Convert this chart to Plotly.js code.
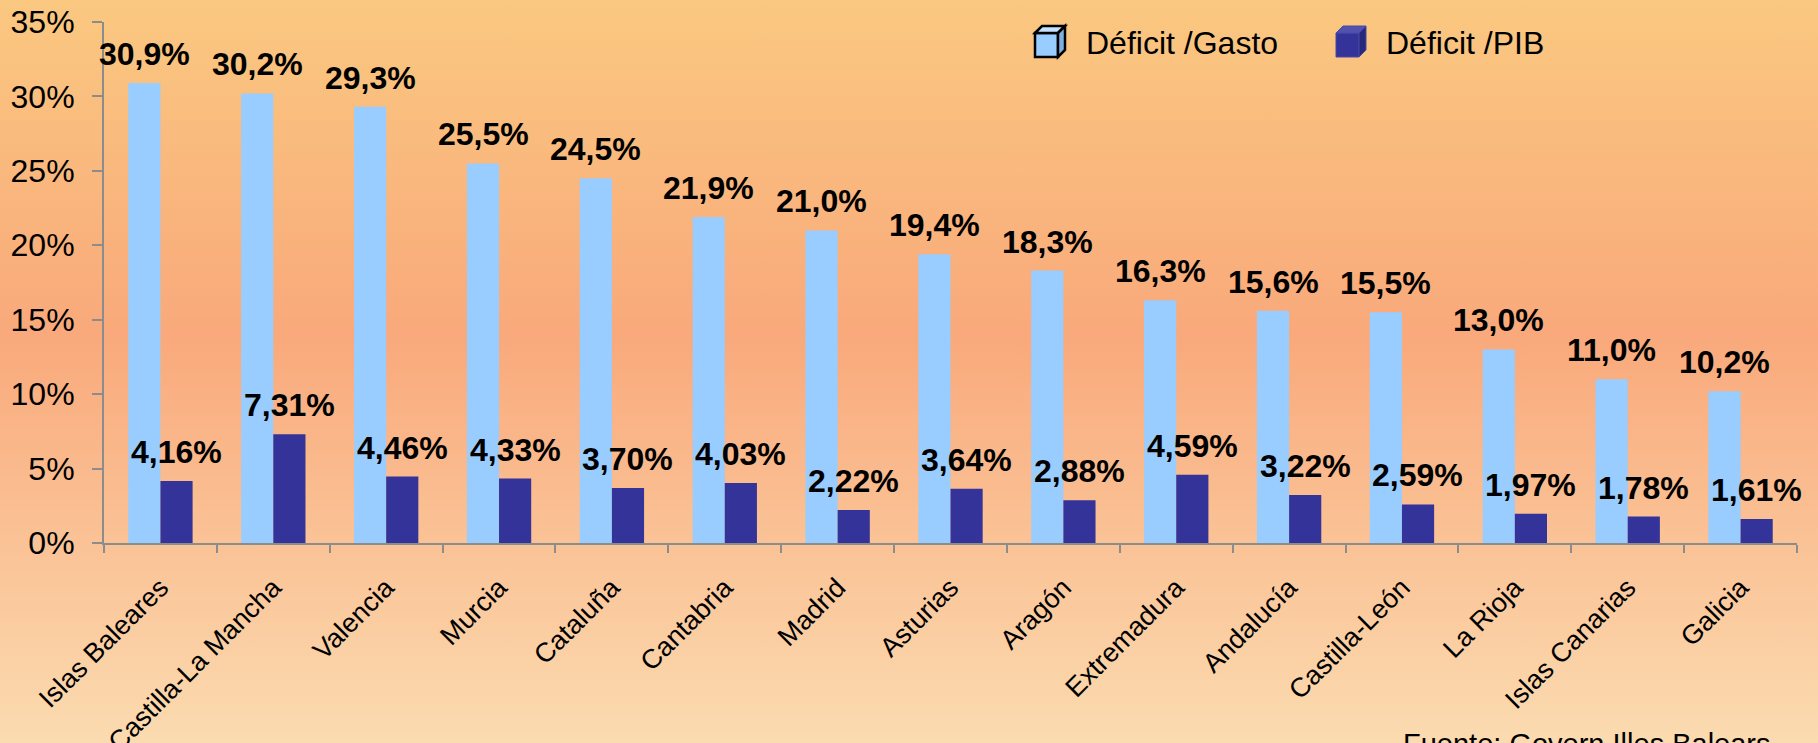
<!DOCTYPE html>
<html><head><meta charset="utf-8">
<script src="https://cdn.plot.ly/plotly-3.0.1.min.js"></script>
<style>
html,body{margin:0;padding:0;width:1818px;height:743px;overflow:hidden;
background:linear-gradient(to bottom,#FAC880 0%,#F9A97B 45%,#FBDBB0 100%);}
#chart{width:1818px;height:743px;}
</style></head><body><div id="chart"></div>
<script>
// ---- data ----
const regions = ['Islas Baleares','Castilla-La Mancha','Valencia','Murcia','Cataluña','Cantabria','Madrid','Asturias','Aragón','Extremadura','Andalucía','Castilla-León','La Rioja','Islas Canarias','Galicia'];
const deficitGasto = [30.9,30.2,29.3,25.5,24.5,21.9,21.0,19.4,18.3,16.3,15.6,15.5,13.0,11.0,10.2];
const deficitPIB = [4.16,7.31,4.46,4.33,3.70,4.03,2.22,3.64,2.88,4.59,3.22,2.59,1.97,1.78,1.61];
const seriesNames = ['Déficit /Gasto','Déficit /PIB'];
const yTickVals = [0,5,10,15,20,25,30,35];
const sourceText = 'Fuente: Govern Illes Balears';

// ---- styling ----
const FONT = 'Liberation Sans, Arial, sans-serif';
const LIGHT = '#99CCFF', DARK = '#333399', AXIS = '#8c8c8c';
const W = 1818, H = 743;
const M = {l:104, r:21, t:22, b:200};
const PW = W - M.l - M.r, PH = H - M.t - M.b;
const px = x => (x - M.l) / PW;
const py = y => (H - M.b - y) / PH;
const fmt = (v, d) => v.toFixed(d).replace('.', ',') + '%';

const traces = [
  {type:'bar', name:seriesNames[0], x:regions, y:deficitGasto, marker:{color:LIGHT}, hoverinfo:'x+y'},
  {type:'bar', name:seriesNames[1], x:regions, y:deficitPIB, marker:{color:DARK}, hoverinfo:'x+y'}
];

const annotations = [];
regions.forEach((r, i) => {
  annotations.push({x:r, y:deficitGasto[i], xref:'x', yref:'y', xshift:-16, yshift:9, yanchor:'bottom',
    showarrow:false, text:fmt(deficitGasto[i],1), font:{family:FONT, size:32, color:'#000', weight:700}});
  annotations.push({x:r, y:deficitPIB[i], xref:'x', yref:'y', xshift:16, yshift:9, yanchor:'bottom',
    showarrow:false, text:fmt(deficitPIB[i],2), font:{family:FONT, size:32, color:'#000', weight:700}});
});

// legend (manual, cube icons)
function cube(x0, y0, w, h, d, front, top, side, line) {
  const P = (x,y) => px(x) + ',' + py(y);
  const sh = [];
  sh.push({type:'path', xref:'paper', yref:'paper', path:`M${P(x0,y0+d)}L${P(x0+w,y0+d)}L${P(x0+w,y0+h)}L${P(x0,y0+h)}Z`, fillcolor:front, line:line});
  sh.push({type:'path', xref:'paper', yref:'paper', path:`M${P(x0,y0+d)}L${P(x0+d,y0)}L${P(x0+w+d,y0)}L${P(x0+w,y0+d)}Z`, fillcolor:top, line:line});
  sh.push({type:'path', xref:'paper', yref:'paper', path:`M${P(x0+w,y0+d)}L${P(x0+w+d,y0)}L${P(x0+w+d,y0+h-d)}L${P(x0+w,y0+h)}Z`, fillcolor:side, line:line});
  return sh;
}
const shapes = [
  ...cube(1035, 26, 23, 31, 7, LIGHT, '#C4E2FF', '#7FB0E0', {color:'#000', width:2.5}),
  ...cube(1336, 26, 23, 31, 7, DARK, '#5252AE', '#28287A', {color:'#4848A8', width:1})
];
annotations.push({xref:'paper', yref:'paper', x:px(1084), y:py(43), xanchor:'left', yanchor:'middle', showarrow:false,
  text:seriesNames[0], font:{family:FONT, size:32, color:'#000'}});
annotations.push({xref:'paper', yref:'paper', x:px(1384), y:py(43), xanchor:'left', yanchor:'middle', showarrow:false,
  text:seriesNames[1], font:{family:FONT, size:32, color:'#000'}});
annotations.push({xref:'paper', yref:'paper', x:px(1401), y:py(726), xanchor:'left', yanchor:'top', showarrow:false,
  text:sourceText, font:{family:FONT, size:29, color:'#000'}});

const layout = {
  width:W, height:H, margin:M,
  paper_bgcolor:'rgba(0,0,0,0)', plot_bgcolor:'rgba(0,0,0,0)',
  showlegend:false, barmode:'group', bargap:0.43, bargroupgap:0,
  font:{family:FONT, color:'#000'},
  xaxis:{type:'category', automargin:false, range:[-0.5, regions.length-0.5], tickson:'boundaries', ticks:'outside', ticklen:8, tickwidth:2, tickcolor:AXIS,
    showline:true, linecolor:AXIS, linewidth:2, showgrid:false, tickangle:-45, ticklabelstandoff:16,
    tickfont:{family:FONT, size:27, color:'#000'}},
  yaxis:{range:[0,35], automargin:false, tickvals:yTickVals, ticktext:yTickVals.map(v=>v+'%'), ticks:'outside', ticklen:10, tickwidth:2, tickcolor:AXIS,
    showline:true, linecolor:AXIS, linewidth:2, showgrid:false, zeroline:false, ticklabelstandoff:11,
    tickfont:{family:FONT, size:32, color:'#000'}},
  annotations:annotations, shapes:shapes
};
Plotly.newPlot('chart', traces, layout, {displayModeBar:false, staticPlot:true});
</script></body></html>
